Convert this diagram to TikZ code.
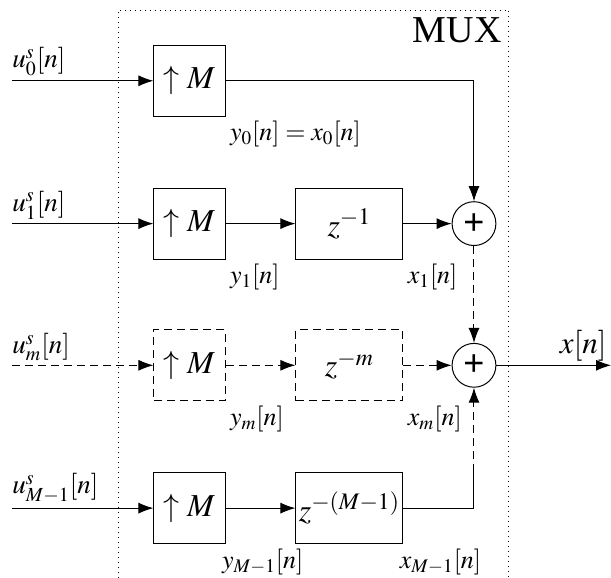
\documentclass[tikz,border=0pt]{standalone}
\usepackage{mathptmx}
\usepackage[no-math]{fontspec}
\setmainfont{Liberation Serif}
\newfontfamily\plusfont{Liberation Sans}
\usetikzlibrary{arrows.meta,positioning,calc}

\begin{document}
\begin{tikzpicture}[line width=0.5pt,
    >={Latex[length=7.5pt,width=5.5pt]},
    upblk/.style={draw, minimum width=1.25cm, minimum height=1.25cm, inner sep=0pt, font=\fontsize{16}{18}\selectfont},
    dlyblk/.style={draw, minimum width=1.88cm, minimum height=1.25cm, inner sep=0pt, font=\fontsize{16}{18}\selectfont},
    adder/.style={circle, draw, minimum size=0.77cm, inner sep=0pt, font=\plusfont\fontsize{18}{18}\selectfont},
    insig/.style={anchor=south west, inner xsep=0pt, inner ysep=2pt, font=\fontsize{13.5}{15}\selectfont},
    sig/.style={anchor=north west, inner sep=2pt, font=\fontsize{13}{15}\selectfont},
    dsh/.style={dash pattern=on 4pt off 2.5pt}]
        \useasboundingbox (0,0) rectangle (10.738,-10.158);

        % the MUX frame
        \draw[dotted] (2.074,-10.158) |- (8.945,-0.176) -- (8.945,-10.158);
        \node[anchor=north east, inner sep=3.5pt, font=\fontsize{19}{21}\selectfont] (mux) at (8.945,-0.176) {MUX};

        \coordinate (in0) at (0.21,-1.42);
        \coordinate (in1) at (0.21,-3.93);
        \coordinate (inm) at (0.21,-6.42);
        \coordinate (inM) at (0.21,-8.93);
        \coordinate (out) at (10.738,-6.42);

        \node[upblk] (up0) at (3.33,-1.42) {$\uparrow M$};
        \node[upblk] (up1) at (3.33,-3.93) {$\uparrow M$};
        \node[upblk, dsh] (upm) at (3.33,-6.42) {$\uparrow M$};
        \node[upblk] (upM) at (3.33,-8.93) {$\uparrow M$};

        \node[dlyblk] (d1) at (6.14,-3.93) {$z^{-1}$};
        \node[dlyblk, dsh] (dm) at (6.14,-6.42) {$z^{-m}$};
        \node[dlyblk] (dM) at (6.14,-8.93) {$z^{-(M-1)}$};

        \node[adder] (s1) at (8.33,-3.93) {+};
        \node[adder] (s2) at (8.33,-6.42) {+};
        \coordinate (turnM) at (s2 |- dM.north);

        % signal names
        \node[insig] (lu0) at (in0) {$u_0^s[n]$};
        \node[insig] (lu1) at (in1) {$u_1^s[n]$};
        \node[insig] (lum) at (inm) {$u_m^s[n]$};
        \node[insig] (luM) at (inM) {$u_{M-1}^s[n]$};
        \node[sig] (ly0) at (up0.south east) {$y_0[n]=x_0[n]$};
        \node[sig] (ly1) at (up1.south east) {$y_1[n]$};
        \node[sig] (lx1) at (d1.south east) {$x_1[n]$};
        \node[sig] (lym) at (upm.south east) {$y_m[n]$};
        \node[sig] (lxm) at (dm.south east) {$x_m[n]$};
        \node[sig, xshift=-4pt] (lyM) at (upM.south east) {$y_{M-1}[n]$};
        \node[sig, xshift=-4pt] (lxM) at (dM.south east) {$x_{M-1}[n]$};
        \node[anchor=south east, inner sep=2pt, font=\fontsize{15.5}{17}\selectfont] (lout) at (out) {$x[n]$};

        \draw[->] (in0) -- (up0);
        \draw[->] (up0) -| (s1);
        \draw[->] (in1) -- (up1);
        \draw[->] (up1) -- (d1);
        \draw[->] (d1) -- (s1);
        \draw[->, dsh] (s1) -- (s2);
        \draw[->, dsh] (inm) -- (upm);
        \draw[->, dsh] (upm) -- (dm);
        \draw[->, dsh] (dm) -- (s2);
        \draw[->] (inM) -- (upM);
        \draw[->] (upM) -- (dM);
        \draw (dM) -| (turnM);
        \draw[->, dsh] (turnM) -- (s2);
        \draw[->] (s2) -- (out);
    \end{tikzpicture}
\end{document}
